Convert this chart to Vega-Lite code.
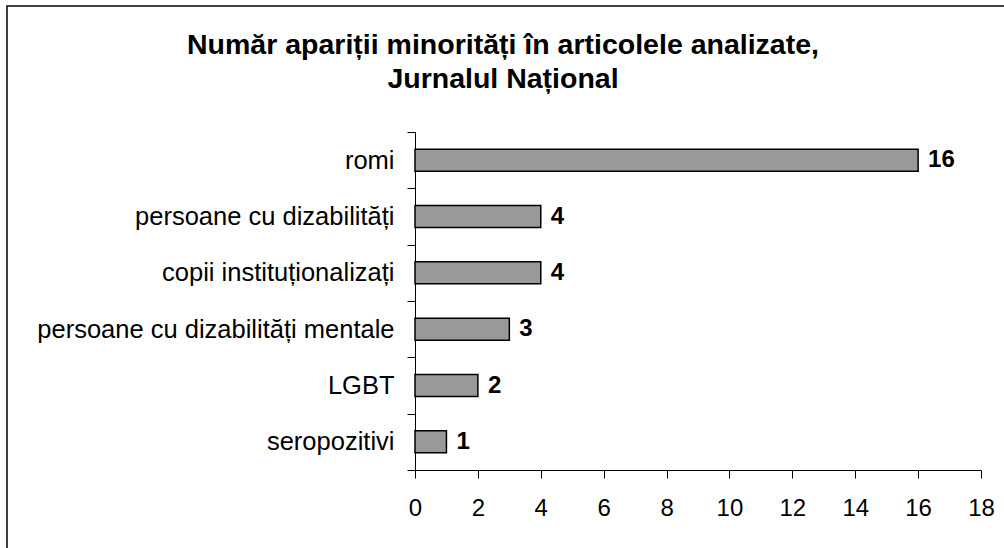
{
  "$schema": "https://vega.github.io/schema/vega-lite/v6.json",
  "width": 1007,
  "height": 552,
  "autosize": "none",
  "padding": {"left": 7, "top": 6, "right": -10, "bottom": -10},
  "background": "white",
  "config": {
    "view": {"stroke": "black", "strokeWidth": 1.5},
    "font": "Liberation Sans"
  },
  "title": {
    "text": ["Număr apariții minorități în articolele analizate,", "Jurnalul Național"],
    "fontSize": 28.5,
    "fontWeight": "bold",
    "color": "black",
    "anchor": "start",
    "align": "center",
    "dx": 496,
    "orient": "top",
    "offset": -99,
    "lineHeight": 34
  },
  "data": {
    "values": [
      {"group": "romi", "count": 16},
      {"group": "persoane cu dizabilități", "count": 4},
      {"group": "copii instituționalizați", "count": 4},
      {"group": "persoane cu dizabilități mentale", "count": 3},
      {"group": "LGBT", "count": 2},
      {"group": "seropozitivi", "count": 1}
    ]
  },
  "encoding": {
    "y": {
      "field": "group",
      "type": "nominal",
      "sort": null,
      "scale": {"range": [126, 464], "paddingInner": 0, "paddingOuter": 0},
      "axis": {
        "title": null,
        "offset": -408,
        "domainColor": "black",
        "domainWidth": 1,
        "tickColor": "black",
        "tickSize": 8,
        "tickBand": "extent",
        "labelFontSize": 25.5,
        "labelColor": "black",
        "labelPadding": 13,
        "labelLimit": 500
      }
    },
    "x": {
      "field": "count",
      "type": "quantitative",
      "scale": {"domain": [0, 18], "range": [408, 974], "nice": false, "zero": true},
      "axis": {
        "title": null,
        "offset": -88,
        "values": [0, 2, 4, 6, 8, 10, 12, 14, 16, 18],
        "grid": false,
        "domainColor": "black",
        "domainWidth": 1,
        "tickColor": "black",
        "tickSize": 8,
        "labelFontSize": 24,
        "labelColor": "black",
        "labelPadding": 18,
        "labelFlush": false
      }
    }
  },
  "layer": [
    {
      "mark": {"type": "bar", "size": 22, "fill": "#999999", "stroke": "black", "strokeWidth": 1.5}
    },
    {
      "mark": {"type": "text", "align": "left", "baseline": "middle", "dx": 10, "fontSize": 24, "fontWeight": "bold", "color": "black"},
      "encoding": {"text": {"field": "count", "type": "quantitative"}}
    }
  ]
}
